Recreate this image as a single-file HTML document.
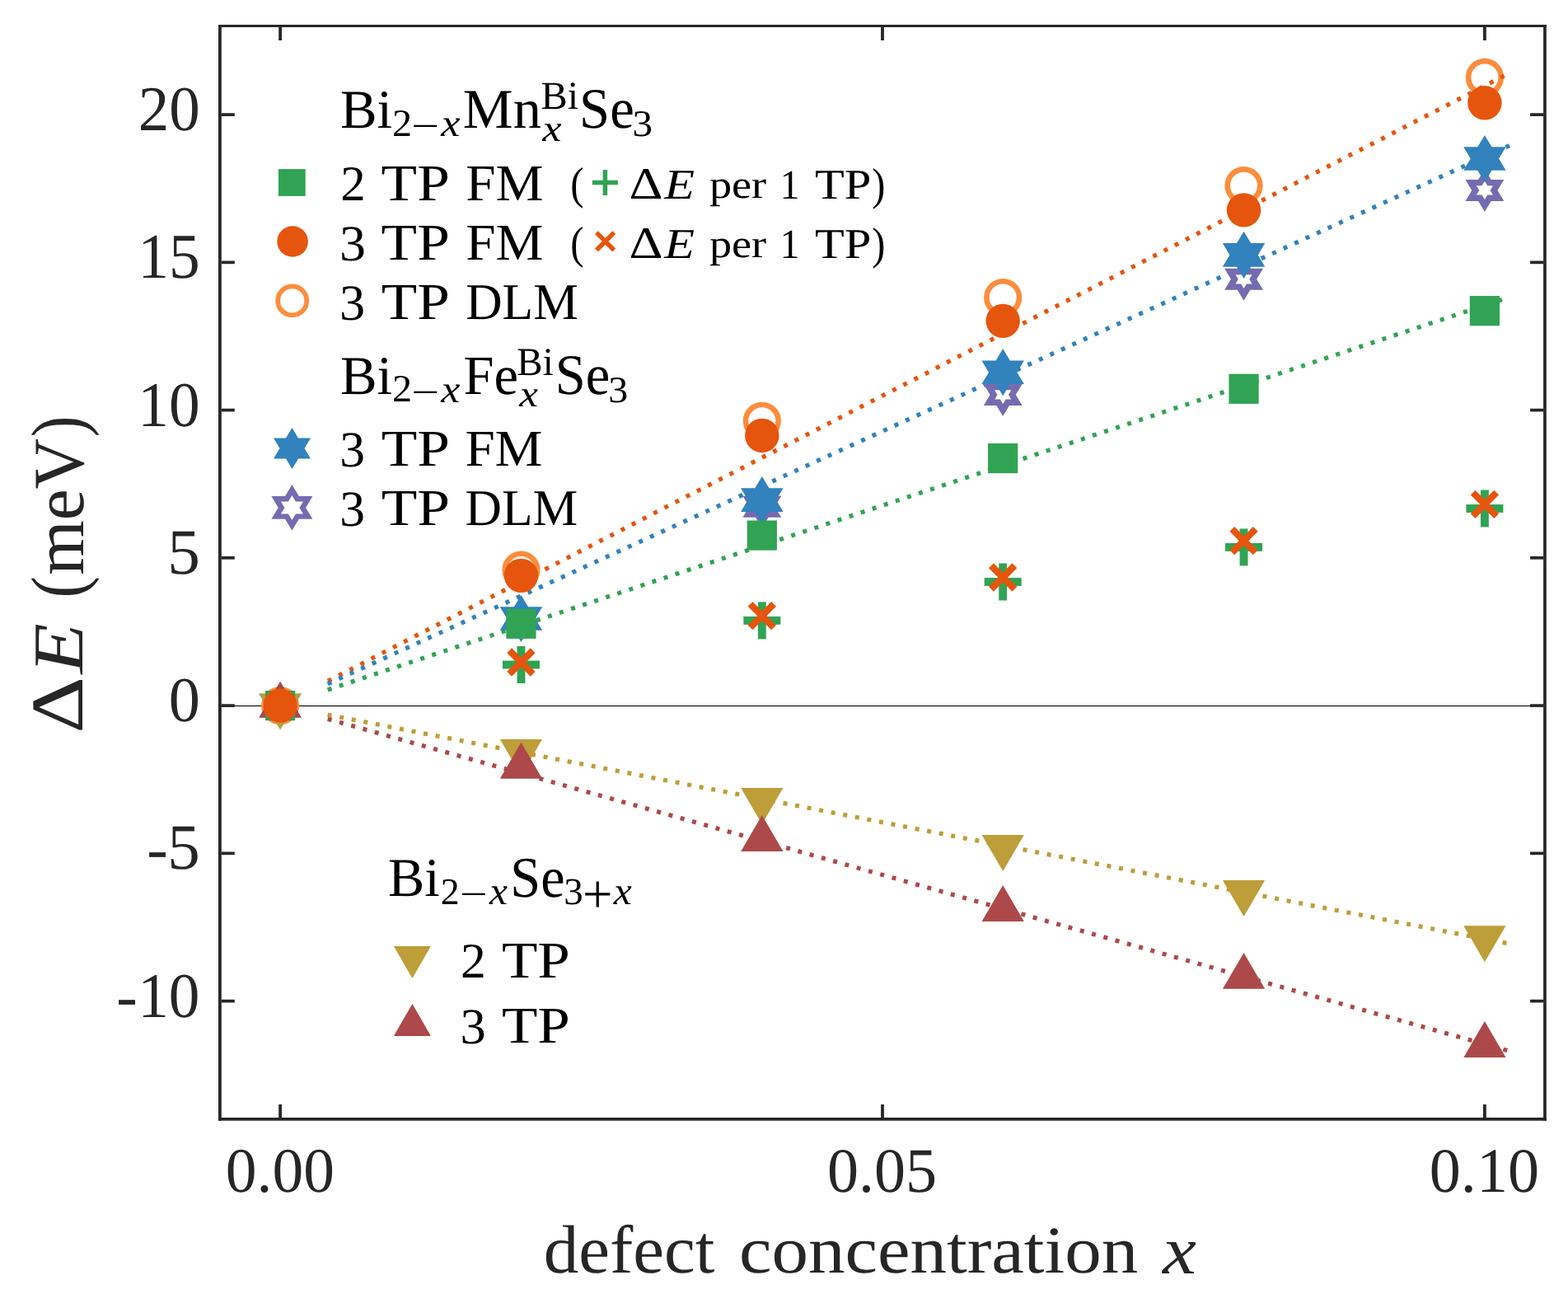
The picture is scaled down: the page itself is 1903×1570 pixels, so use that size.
<!DOCTYPE html>
<html><head><meta charset="utf-8"><title>Defect concentration plot</title>
<style>html,body{margin:0;padding:0;background:#fff;overflow:hidden;}svg{display:block;}
text{font-family:'Liberation Serif', 'DejaVu Serif', serif;text-rendering:geometricPrecision;}</style></head>
<body><svg width="1903" height="1570" viewBox="0 0 1903 1570">
<rect width="1903" height="1570" fill="#fff"/>
<rect x="268" y="855.95" width="1605" height="1.1" fill="#000"/>
<circle cx="340.1" cy="856.1" r="19.8" fill="none" stroke="#fd8d3c" stroke-width="6.6"/>
<circle cx="632.46" cy="691.55" r="19.8" fill="none" stroke="#fd8d3c" stroke-width="6.6"/>
<circle cx="924.82" cy="510.86" r="19.8" fill="none" stroke="#fd8d3c" stroke-width="6.6"/>
<circle cx="1217.18" cy="361.01" r="19.8" fill="none" stroke="#fd8d3c" stroke-width="6.6"/>
<circle cx="1509.54" cy="225.14" r="19.8" fill="none" stroke="#fd8d3c" stroke-width="6.6"/>
<circle cx="1801.9" cy="93.93" r="19.8" fill="none" stroke="#fd8d3c" stroke-width="6.6"/>
<line x1="397.73" y1="836.96" x2="1832" y2="360.49" stroke="#31a354" stroke-width="5.3" stroke-dasharray="5 9.82"/>
<line x1="397.88" y1="826.38" x2="1832" y2="88.67" stroke="#e6550d" stroke-width="5.3" stroke-dasharray="5 9.82"/>
<line x1="397.82" y1="829.81" x2="1832" y2="176.54" stroke="#3182bd" stroke-width="5.3" stroke-dasharray="5 9.82"/>
<line x1="397.65" y1="867.25" x2="1832" y2="1145.08" stroke="#bd9e39" stroke-width="5.3" stroke-dasharray="5 9.82"/>
<line x1="397.69" y1="872.28" x2="1832" y2="1275.32" stroke="#ad494a" stroke-width="5.3" stroke-dasharray="5 9.82"/>
<path d="M340.1,830.1 L347.91,843.1 L363.52,843.1 L355.71,856.1 L363.52,869.1 L347.91,869.1 L340.1,882.1 L332.29,869.1 L316.68,869.1 L324.49,856.1 L316.68,843.1 L332.29,843.1Z M340.1,844.9 L343.46,850.5 L350.19,850.5 L346.82,856.1 L350.19,861.7 L343.46,861.7 L340.1,867.3 L336.74,861.7 L330.01,861.7 L333.38,856.1 L330.01,850.5 L336.74,850.5Z" fill="#756bb1" fill-rule="evenodd"/>
<path d="M632.46,724.52 L640.27,737.52 L655.88,737.52 L648.07,750.52 L655.88,763.52 L640.27,763.52 L632.46,776.52 L624.65,763.52 L609.04,763.52 L616.85,750.52 L609.04,737.52 L624.65,737.52Z M632.46,739.32 L635.82,744.92 L642.55,744.92 L639.18,750.52 L642.55,756.12 L635.82,756.12 L632.46,761.72 L629.1,756.12 L622.37,756.12 L625.74,750.52 L622.37,744.92 L629.1,744.92Z" fill="#756bb1" fill-rule="evenodd"/>
<path d="M924.82,588.83 L932.63,601.83 L948.24,601.83 L940.43,614.83 L948.24,627.83 L932.63,627.83 L924.82,640.83 L917.01,627.83 L901.4,627.83 L909.21,614.83 L901.4,601.83 L917.01,601.83Z M924.82,603.63 L928.18,609.23 L934.91,609.23 L931.54,614.83 L934.91,620.43 L928.18,620.43 L924.82,626.03 L921.46,620.43 L914.73,620.43 L918.1,614.83 L914.73,609.23 L921.46,609.23Z" fill="#756bb1" fill-rule="evenodd"/>
<path d="M1217.18,452.96 L1224.99,465.96 L1240.6,465.96 L1232.79,478.96 L1240.6,491.96 L1224.99,491.96 L1217.18,504.96 L1209.37,491.96 L1193.76,491.96 L1201.57,478.96 L1193.76,465.96 L1209.37,465.96Z M1217.18,467.76 L1220.54,473.36 L1227.27,473.36 L1223.9,478.96 L1227.27,484.56 L1220.54,484.56 L1217.18,490.16 L1213.82,484.56 L1207.09,484.56 L1210.46,478.96 L1207.09,473.36 L1213.82,473.36Z" fill="#756bb1" fill-rule="evenodd"/>
<path d="M1509.54,312.78 L1517.35,325.78 L1532.96,325.78 L1525.15,338.78 L1532.96,351.78 L1517.35,351.78 L1509.54,364.78 L1501.73,351.78 L1486.12,351.78 L1493.93,338.78 L1486.12,325.78 L1501.73,325.78Z M1509.54,327.58 L1512.9,333.18 L1519.63,333.18 L1516.26,338.78 L1519.63,344.38 L1512.9,344.38 L1509.54,349.98 L1506.18,344.38 L1499.45,344.38 L1502.82,338.78 L1499.45,333.18 L1506.18,333.18Z" fill="#756bb1" fill-rule="evenodd"/>
<path d="M1801.9,204.88 L1809.71,217.88 L1825.32,217.88 L1817.51,230.88 L1825.32,243.88 L1809.71,243.88 L1801.9,256.88 L1794.09,243.88 L1778.48,243.88 L1786.29,230.88 L1778.48,217.88 L1794.09,217.88Z M1801.9,219.68 L1805.26,225.28 L1811.99,225.28 L1808.62,230.88 L1811.99,236.48 L1805.26,236.48 L1801.9,242.08 L1798.54,236.48 L1791.81,236.48 L1795.18,230.88 L1791.81,225.28 L1798.54,225.28Z" fill="#756bb1" fill-rule="evenodd"/>
<polygon points="340.1,827.5 348.69,841.8 365.86,841.8 357.27,856.1 365.86,870.4 348.69,870.4 340.1,884.7 331.51,870.4 314.34,870.4 322.93,856.1 314.34,841.8 331.51,841.8" fill="#3182bd"/>
<polygon points="632.46,721.92 641.05,736.22 658.22,736.22 649.63,750.52 658.22,764.82 641.05,764.82 632.46,779.12 623.87,764.82 606.7,764.82 615.29,750.52 606.7,736.22 623.87,736.22" fill="#3182bd"/>
<polygon points="924.82,577.98 933.41,592.28 950.58,592.28 941.99,606.58 950.58,620.88 933.41,620.88 924.82,635.18 916.23,620.88 899.06,620.88 907.65,606.58 899.06,592.28 916.23,592.28" fill="#3182bd"/>
<polygon points="1217.18,423.11 1225.77,437.41 1242.94,437.41 1234.35,451.71 1242.94,466.01 1225.77,466.01 1217.18,480.31 1208.59,466.01 1191.42,466.01 1200.01,451.71 1191.42,437.41 1208.59,437.41" fill="#3182bd"/>
<polygon points="1509.54,280.79 1518.13,295.09 1535.3,295.09 1526.71,309.39 1535.3,323.69 1518.13,323.69 1509.54,337.99 1500.95,323.69 1483.78,323.69 1492.37,309.39 1483.78,295.09 1500.95,295.09" fill="#3182bd"/>
<polygon points="1801.9,163.92 1810.49,178.22 1827.66,178.22 1819.07,192.52 1827.66,206.82 1810.49,206.82 1801.9,221.12 1793.31,206.82 1776.14,206.82 1784.73,192.52 1776.14,178.22 1793.31,178.22" fill="#3182bd"/>
<polygon points="340.1,885.4 314.5,841.45 365.7,841.45" fill="#bd9e39"/>
<polygon points="632.46,940.97 606.86,897.02 658.06,897.02" fill="#bd9e39"/>
<polygon points="924.82,1000.05 899.22,956.1 950.42,956.1" fill="#bd9e39"/>
<polygon points="1217.18,1057.01 1191.58,1013.06 1242.78,1013.06" fill="#bd9e39"/>
<polygon points="1509.54,1112.04 1483.94,1068.09 1535.14,1068.09" fill="#bd9e39"/>
<polygon points="1801.9,1167.18 1776.3,1123.23 1827.5,1123.23" fill="#bd9e39"/>
<polygon points="340.1,826.8 314.5,870.75 365.7,870.75" fill="#ad494a"/>
<polygon points="632.46,900.79 606.86,944.74 658.06,944.74" fill="#ad494a"/>
<polygon points="924.82,988.99 899.22,1032.94 950.42,1032.94" fill="#ad494a"/>
<polygon points="1217.18,1073.99 1191.58,1117.94 1242.78,1117.94" fill="#ad494a"/>
<polygon points="1509.54,1155.9 1483.94,1199.85 1535.14,1199.85" fill="#ad494a"/>
<polygon points="1801.9,1239.08 1776.3,1283.03 1827.5,1283.03" fill="#ad494a"/>
<rect x="609.96" y="801.57" width="45" height="9.9" fill="#31a354"/><rect x="627.51" y="784.02" width="9.9" height="45" fill="#31a354"/>
<rect x="902.32" y="747.94" width="45" height="9.9" fill="#31a354"/><rect x="919.87" y="730.39" width="9.9" height="45" fill="#31a354"/>
<rect x="1194.68" y="701.05" width="45" height="9.9" fill="#31a354"/><rect x="1212.23" y="683.5" width="9.9" height="45" fill="#31a354"/>
<rect x="1487.04" y="658.99" width="45" height="9.9" fill="#31a354"/><rect x="1504.59" y="641.44" width="9.9" height="45" fill="#31a354"/>
<rect x="1779.4" y="612.03" width="45" height="9.9" fill="#31a354"/><rect x="1796.95" y="594.48" width="9.9" height="45" fill="#31a354"/>
<path d="M618.21,789.26 L646.71,817.76 M618.21,817.76 L646.71,789.26" stroke="#e6550d" stroke-width="8.2" fill="none"/>
<path d="M910.57,732.87 L939.07,761.37 M910.57,761.37 L939.07,732.87" stroke="#e6550d" stroke-width="8.2" fill="none"/>
<path d="M1202.93,686.26 L1231.43,714.76 M1202.93,714.76 L1231.43,686.26" stroke="#e6550d" stroke-width="8.2" fill="none"/>
<path d="M1495.29,641.81 L1523.79,670.31 M1495.29,670.31 L1523.79,641.81" stroke="#e6550d" stroke-width="8.2" fill="none"/>
<path d="M1787.65,597.71 L1816.15,626.21 M1787.65,626.21 L1816.15,597.71" stroke="#e6550d" stroke-width="8.2" fill="none"/>
<rect x="322" y="838" width="36.2" height="36.2" fill="#31a354"/>
<rect x="614.36" y="738.7" width="36.2" height="36.2" fill="#31a354"/>
<rect x="906.72" y="631.5" width="36.2" height="36.2" fill="#31a354"/>
<rect x="1199.08" y="537.94" width="36.2" height="36.2" fill="#31a354"/>
<rect x="1491.44" y="453.69" width="36.2" height="36.2" fill="#31a354"/>
<rect x="1783.8" y="359.04" width="36.2" height="36.2" fill="#31a354"/>
<circle cx="340.1" cy="856.1" r="20.7" fill="#e6550d"/>
<circle cx="632.46" cy="698.36" r="20.7" fill="#e6550d"/>
<circle cx="924.82" cy="528.43" r="20.7" fill="#e6550d"/>
<circle cx="1217.18" cy="389.33" r="20.7" fill="#e6550d"/>
<circle cx="1509.54" cy="254.9" r="20.7" fill="#e6550d"/>
<circle cx="1801.9" cy="124.76" r="20.7" fill="#e6550d"/>
<rect x="337.9" y="205.1" width="32.8" height="32.8" fill="#31a354"/>
<circle cx="355.1" cy="293" r="18.8" fill="#e6550d"/>
<circle cx="354.7" cy="364.9" r="17.5" fill="none" stroke="#fd8d3c" stroke-width="5.8"/>
<polygon points="354.5,519 362.01,531.5 377.02,531.5 369.51,544 377.02,556.5 362.01,556.5 354.5,569 346.99,556.5 331.98,556.5 339.49,544 331.98,531.5 346.99,531.5" fill="#3182bd"/>
<path d="M354.4,588.1 L362.75,602 L379.44,602 L371.09,615.9 L379.44,629.8 L362.75,629.8 L354.4,643.7 L346.05,629.8 L329.36,629.8 L337.71,615.9 L329.36,602 L346.05,602Z M354.4,600.9 L358.9,608.4 L367.91,608.4 L363.41,615.9 L367.91,623.4 L358.9,623.4 L354.4,630.9 L349.9,623.4 L340.89,623.4 L345.39,615.9 L340.89,608.4 L349.9,608.4Z" fill="#756bb1" fill-rule="evenodd"/>
<polygon points="500.4,1186.9 477.88,1147.9 522.92,1147.9" fill="#bd9e39"/>
<polygon points="500.4,1217.9 477.88,1256.9 522.92,1256.9" fill="#ad494a"/>
<rect x="718.9" y="218.75" width="31" height="5.5" fill="#31a354"/><rect x="731.65" y="206" width="5.5" height="31" fill="#31a354"/>
<path d="M723.95,282.15 L745.25,303.45 M723.95,303.45 L745.25,282.15" stroke="#e6550d" stroke-width="5.5" fill="none"/>
<rect x="265" y="30" width="1612" height="3" fill="#262626"/>
<rect x="265" y="1356" width="1612" height="3.7" fill="#262626"/>
<rect x="265" y="30" width="3.8" height="1329.7" fill="#262626"/>
<rect x="1873.1" y="30" width="3.7" height="1329.7" fill="#262626"/>
<rect x="338.2" y="33" width="3.8" height="16" fill="#262626"/>
<rect x="338.2" y="1340" width="3.8" height="16" fill="#262626"/>
<rect x="1069.1" y="33" width="3.8" height="16" fill="#262626"/>
<rect x="1069.1" y="1340" width="3.8" height="16" fill="#262626"/>
<rect x="1800" y="33" width="3.8" height="16" fill="#262626"/>
<rect x="1800" y="1340" width="3.8" height="16" fill="#262626"/>
<rect x="268.8" y="137.25" width="16" height="3.7" fill="#262626"/>
<rect x="1857.1" y="137.25" width="16" height="3.7" fill="#262626"/>
<rect x="268.8" y="316.5" width="16" height="3.7" fill="#262626"/>
<rect x="1857.1" y="316.5" width="16" height="3.7" fill="#262626"/>
<rect x="268.8" y="495.75" width="16" height="3.7" fill="#262626"/>
<rect x="1857.1" y="495.75" width="16" height="3.7" fill="#262626"/>
<rect x="268.8" y="675" width="16" height="3.7" fill="#262626"/>
<rect x="1857.1" y="675" width="16" height="3.7" fill="#262626"/>
<rect x="268.8" y="854.25" width="16" height="3.7" fill="#262626"/>
<rect x="1857.1" y="854.25" width="16" height="3.7" fill="#262626"/>
<rect x="268.8" y="1033.5" width="16" height="3.7" fill="#262626"/>
<rect x="1857.1" y="1033.5" width="16" height="3.7" fill="#262626"/>
<rect x="268.8" y="1212.75" width="16" height="3.7" fill="#262626"/>
<rect x="1857.1" y="1212.75" width="16" height="3.7" fill="#262626"/>
<g id="yt20" transform="matrix(0.98725 0.00002 0 1.01798 5.794 -2.644)"><text x="240" y="157.5" font-size="76" fill="#262626" text-anchor="end" style="">20</text></g>
<g id="yt15" transform="matrix(0.99352 0.00002 0 1.02236 4.367 -7.671)"><text x="240" y="336.75" font-size="76" fill="#262626" text-anchor="end" style="">15</text></g>
<g id="yt10" transform="matrix(0.99097 0.00002 0 1.01798 4.852 -8.600)"><text x="240" y="516" font-size="76" fill="#262626" text-anchor="end" style="">10</text></g>
<g id="yt5" transform="matrix(1.04485 0.00002 0 1.03149 -7.808 -21.577)"><text x="240" y="695.25" font-size="76" fill="#262626" text-anchor="end" style="">5</text></g>
<g id="yt0" transform="matrix(1.00280 0.00002 0 1.01720 2.077 -14.883)"><text x="240" y="874.5" font-size="76" fill="#262626" text-anchor="end" style="">0</text></g>
<g id="yt5n" transform="matrix(1.04124 0.00002 0 1.03168 -7.165 -33.577)"><text x="240" y="1053.75" font-size="76" fill="#262626" text-anchor="end" style="">5</text></g>
<g id="yt5h" transform="matrix(1.00810 0.00002 0 1.00352 -4.329 -2.847)"><text x="181" y="1053.75" font-size="76" fill="#262626" text-anchor="start" style="">-</text></g>
<g id="yt10n" transform="matrix(0.99022 0.00002 0 1.01739 4.799 -20.767)"><text x="240" y="1233" font-size="76" fill="#262626" text-anchor="end" style="">10</text></g>
<g id="yt10h" transform="matrix(1.00810 0.00002 0 1.00352 -3.890 -3.728)"><text x="144.1" y="1233" font-size="76" fill="#262626" text-anchor="start" style="">-</text></g>
<g id="xt0.00" transform="matrix(0.96729 0.00002 0 0.98767 11.077 17.368)"><text x="339.9" y="1446" font-size="78" fill="#262626" text-anchor="middle" style="">0.00</text></g>
<g id="xt0.05" transform="matrix(0.97524 0.00002 0 0.98463 26.670 21.773)"><text x="1070.4" y="1446" font-size="78" fill="#262626" text-anchor="middle" style="">0.05</text></g>
<g id="xt0.10" transform="matrix(0.97572 0.00002 0 0.98482 43.701 21.500)"><text x="1801.45" y="1446" font-size="78" fill="#262626" text-anchor="middle" style="">0.10</text></g>
<g id="xl1" transform="matrix(1.01275 0.00002 0 0.98584 -11.754 21.834)"><text x="663" y="1543.7" font-size="84" fill="#262626" text-anchor="start" style="">defect</text></g>
<g id="xl1b" transform="matrix(1.05933 0.00002 0 0.96765 -56.400 49.782)"><text x="900" y="1543.7" font-size="84" fill="#262626" text-anchor="start" style="">concentration</text></g>
<g id="xl2" transform="matrix(1.09389 0.00002 0 0.98676 -131.425 21.298)"><text x="1410" y="1543.7" font-size="84" fill="#262626" text-anchor="start" style="font-style:italic;">x</text></g>
<g id="yl1" transform="matrix(1.04948 0.00002 0 1.24405 -4.748 -211.136)"><text x="99.8" y="885" font-size="86" fill="#262626" text-anchor="start" style="" transform="rotate(-90 99.8 885)">Δ</text></g>
<g id="yl2" transform="matrix(1.00728 0.00002 0 1.16960 -0.528 -139.336)"><text x="99.8" y="818" font-size="86" fill="#262626" text-anchor="start" style="font-style:italic;" transform="rotate(-90 99.8 818)">E</text></g>
<g id="yl3" transform="matrix(1.06112 0.00002 0 0.91689 -4.917 63.453)"><text x="99.8" y="722" font-size="86" fill="#262626" text-anchor="start" style="" transform="rotate(-90 99.8 722)">(</text></g>
<g id="yl4" transform="matrix(1.02030 0.00002 0 0.99076 -1.187 8.072)"><text x="99.8" y="696" font-size="86" fill="#262626" text-anchor="start" style="" transform="rotate(-90 99.8 696)">meV</text></g>
<g id="yl5" transform="matrix(1.06009 0.00002 0 0.89461 -5.091 57.767)"><text x="99.8" y="528" font-size="86" fill="#262626" text-anchor="start" style="" transform="rotate(-90 99.8 528)">)</text></g>
<g id="tMn_Bi" transform="matrix(1.04369 0.00002 0 1.03890 -20.160 -6.599)"><text x="415" y="155.1" font-size="64" fill="#000" text-anchor="start" style="">Bi</text></g>
<g id="tFe_Bi" transform="matrix(1.04369 0.00002 0 1.03890 -20.160 -18.762)"><text x="415" y="477.7" font-size="64" fill="#000" text-anchor="start" style="">Bi</text></g>
<g id="tMn_s2" transform="matrix(1.04664 0.00002 0 1.02135 -24.289 -3.673)"><text x="478" y="164.9" font-size="46" fill="#000" text-anchor="start" style="">2</text></g>
<g id="tFe_s2" transform="matrix(1.04664 0.00002 0 1.02135 -24.289 -11.417)"><text x="478" y="487.5" font-size="46" fill="#000" text-anchor="start" style="">2</text></g>
<g id="tMn_sm" transform="matrix(1.30449 0.00002 0 0.99203 -155.914 3.937)"><text x="502.2" y="164.9" font-size="46" fill="#000" text-anchor="start" style="">−</text></g>
<g id="tFe_sm" transform="matrix(1.30449 0.00002 0 0.99203 -155.914 6.942)"><text x="502.2" y="487.5" font-size="46" fill="#000" text-anchor="start" style="">−</text></g>
<g id="tMn_sx" transform="matrix(1.13247 0.00002 0 1.02150 -70.463 -3.751)"><text x="534.8" y="164.9" font-size="46" fill="#000" text-anchor="start" style="font-style:italic;">x</text></g>
<g id="tFe_sx" transform="matrix(1.13247 0.00002 0 1.02150 -70.463 -10.298)"><text x="534.8" y="487.5" font-size="46" fill="#000" text-anchor="start" style="font-style:italic;">x</text></g>
<g id="tMn_Mn" transform="matrix(1.06918 0.00002 0 1.06217 -40.987 -10.336)"><text x="563.8" y="155.2" font-size="64" fill="#000" text-anchor="start" style="">Mn</text></g>
<g id="tMn_sup" transform="matrix(1.04965 0.00002 0 1.04076 -34.014 -5.860)"><text x="657.8" y="132" font-size="46" fill="#000" text-anchor="start" style="">Bi</text></g>
<g id="tMn_sx2" transform="matrix(1.14281 0.00002 0 0.98768 -93.563 2.152)"><text x="657.8" y="170.7" font-size="46" fill="#000" text-anchor="start" style="font-style:italic;">x</text></g>
<g id="tMn_Se" transform="matrix(1.04066 0.00002 0 1.08687 -33.263 -15.152)"><text x="707.6" y="156.2" font-size="64" fill="#000" text-anchor="start" style="">Se</text></g>
<g id="tMn_s3" transform="matrix(1.06780 0.00002 0 0.98224 -54.633 1.878)"><text x="770" y="165.7" font-size="46" fill="#000" text-anchor="start" style="">3</text></g>
<g id="tFe_Fe" transform="matrix(1.03912 0.00002 0 1.05014 -23.949 -24.507)"><text x="564.4" y="478.2" font-size="64" fill="#000" text-anchor="start" style="">Fe</text></g>
<g id="tFe_sup" transform="matrix(1.02106 0.00002 0 1.04306 -14.517 -19.840)"><text x="628.6" y="454.8" font-size="46" fill="#000" text-anchor="start" style="">Bi</text></g>
<g id="tFe_sx2" transform="matrix(1.11720 0.00002 0 0.98768 -73.231 5.279)"><text x="629.6" y="493.3" font-size="46" fill="#000" text-anchor="start" style="font-style:italic;">x</text></g>
<g id="tFe_Se" transform="matrix(1.03923 0.00002 0 1.08566 -31.051 -42.274)"><text x="678.2" y="478.8" font-size="64" fill="#000" text-anchor="start" style="">Se</text></g>
<g id="tFe_s3" transform="matrix(1.04288 0.00002 0 0.98322 -34.000 7.556)"><text x="740.6" y="488.3" font-size="46" fill="#000" text-anchor="start" style="">3</text></g>
<g id="tSe_Bi" transform="matrix(1.03741 0.00002 0 1.03607 -19.736 -39.778)"><text x="473.1" y="1087.1" font-size="64" fill="#000" text-anchor="start" style="">Bi</text></g>
<g id="tSe_s2" transform="matrix(0.99784 0.00002 0 0.99183 -0.846 8.562)"><text x="536.7" y="1096.9" font-size="46" fill="#000" text-anchor="start" style="">2</text></g>
<g id="tSe_sm" transform="matrix(1.29635 0.00002 0 0.99203 -169.349 21.849)"><text x="561.1" y="1086.4" font-size="46" fill="#000" text-anchor="start" style="">−</text></g>
<g id="tSe_sx" transform="matrix(1.07930 0.00002 0 1.02524 -46.670 -28.388)"><text x="593.7" y="1097.2" font-size="46" fill="#000" text-anchor="start" style="font-style:italic;">x</text></g>
<g id="tSe_Se" transform="matrix(1.03439 0.00002 0 1.09175 -25.923 -101.139)"><text x="623.8" y="1088.8" font-size="64" fill="#000" text-anchor="start" style="">Se</text></g>
<g id="tSe_s3" transform="matrix(1.02276 0.00002 0 1.00229 -17.859 -3.579)"><text x="686.5" y="1097.7" font-size="46" fill="#000" text-anchor="start" style="">3</text></g>
<g id="tSe_sp" transform="matrix(1.40767 0.00002 0 1.44533 -292.723 -484.757)"><text x="710.2" y="1101" font-size="46" fill="#000" text-anchor="start" style="">+</text></g>
<g id="tSe_sx3" transform="matrix(1.07831 0.00002 0 1.02524 -57.874 -28.388)"><text x="744.4" y="1097.2" font-size="46" fill="#000" text-anchor="start" style="font-style:italic;">x</text></g>
<g id="lg_r1_0" transform="matrix(1.01498 0.00002 0 1.00705 -8.830 -2.313)"><text x="415.8" y="243.1" font-size="60" fill="#000" text-anchor="start" style="">2</text></g>
<g id="lg_r1_1" transform="matrix(1.18768 0.00002 0 1.04459 -88.338 -11.434)"><text x="463.9" y="243.1" font-size="60" fill="#000" text-anchor="start" style="">TP</text></g>
<g id="lg_r1_2" transform="matrix(1.08664 0.00002 0 1.04459 -51.066 -11.434)"><text x="567.1" y="243.1" font-size="60" fill="#000" text-anchor="start" style="">FM</text></g>
<g id="lg_r2_0" transform="matrix(1.06516 0.00002 0 1.02613 -30.139 -7.912)"><text x="415" y="315.3" font-size="60" fill="#000" text-anchor="start" style="">3</text></g>
<g id="lg_r2_1" transform="matrix(1.18768 0.00002 0 1.04459 -88.338 -14.845)"><text x="463.9" y="315.3" font-size="60" fill="#000" text-anchor="start" style="">TP</text></g>
<g id="lg_r2_2" transform="matrix(1.08664 0.00002 0 1.04459 -51.066 -14.845)"><text x="567.1" y="315.3" font-size="60" fill="#000" text-anchor="start" style="">FM</text></g>
<g id="lg_r3_0" transform="matrix(1.03602 0.00002 0 1.02588 -17.942 -9.267)"><text x="415" y="386.9" font-size="60" fill="#000" text-anchor="start" style="">3</text></g>
<g id="lg_r3_1" transform="matrix(1.18594 0.00002 0 1.04459 -87.570 -17.405)"><text x="464" y="386.9" font-size="60" fill="#000" text-anchor="start" style="">TP</text></g>
<g id="lg_r3_2" transform="matrix(1.02419 0.00002 0 1.04026 -15.495 -15.959)"><text x="567" y="386.9" font-size="60" fill="#000" text-anchor="start" style="">DLM</text></g>
<g id="lg_r4_0" transform="matrix(1.02552 0.00002 0 1.02662 -13.600 -14.696)"><text x="415.3" y="565.3" font-size="60" fill="#000" text-anchor="start" style="">3</text></g>
<g id="lg_r4_1" transform="matrix(1.18859 0.00002 0 1.04459 -88.632 -25.991)"><text x="463.8" y="565.3" font-size="60" fill="#000" text-anchor="start" style="">TP</text></g>
<g id="lg_r4_2" transform="matrix(1.08606 0.00002 0 1.04459 -50.751 -25.991)"><text x="566.4" y="565.3" font-size="60" fill="#000" text-anchor="start" style="">FM</text></g>
<g id="lg_r5_0" transform="matrix(1.02552 0.00002 0 1.02662 -13.600 -16.413)"><text x="415.3" y="637.1" font-size="60" fill="#000" text-anchor="start" style="">3</text></g>
<g id="lg_r5_1" transform="matrix(1.18859 0.00002 0 1.04459 -88.632 -29.001)"><text x="463.8" y="637.1" font-size="60" fill="#000" text-anchor="start" style="">TP</text></g>
<g id="lg_r5_2" transform="matrix(1.02548 0.00002 0 1.04001 -16.247 -26.078)"><text x="566.4" y="637.1" font-size="60" fill="#000" text-anchor="start" style="">DLM</text></g>
<g id="lg_r6_0" transform="matrix(1.02747 0.00002 0 1.00705 -18.136 -8.661)"><text x="561.8" y="1185.8" font-size="60" fill="#000" text-anchor="start" style="">2</text></g>
<g id="lg_r6_1" transform="matrix(1.18326 0.00002 0 1.04459 -112.971 -53.179)"><text x="610.1" y="1185.8" font-size="60" fill="#000" text-anchor="start" style="">TP</text></g>
<g id="lg_r7_0" transform="matrix(1.04007 0.00002 0 1.02563 -25.583 -31.792)"><text x="561.5" y="1265" font-size="60" fill="#000" text-anchor="start" style="">3</text></g>
<g id="lg_r7_1" transform="matrix(1.18326 0.00002 0 1.04459 -112.971 -56.901)"><text x="610.1" y="1265" font-size="60" fill="#000" text-anchor="start" style="">TP</text></g>
<g id="lp_a1" transform="matrix(0.97504 0.00002 0 1.09304 15.091 -22.808)"><text x="694.6" y="240.9" font-size="50" fill="#000" text-anchor="start" style="">(</text></g>
<g id="lp_aD" transform="matrix(1.27707 0.00002 0 1.09091 -214.768 -22.059)"><text x="766" y="240.9" font-size="50" fill="#000" text-anchor="start" style="">Δ</text></g>
<g id="lp_aE" transform="matrix(1.20448 0.00002 0 1.03425 -164.444 -8.605)"><text x="806" y="240.9" font-size="50" fill="#000" text-anchor="start" style="font-style:italic;">E</text></g>
<g id="lp_ap" transform="matrix(1.08547 0.00002 0 0.95091 -74.778 10.628)"><text x="862" y="240.9" font-size="50" fill="#000" text-anchor="start" style="">per</text></g>
<g id="lp_a1n" transform="matrix(0.96251 0.00002 0 1.01003 31.277 -2.819)"><text x="951" y="240.9" font-size="50" fill="#000" text-anchor="start" style="">1</text></g>
<g id="lp_aT" transform="matrix(1.17092 0.00002 0 1.03088 -170.229 -7.842)"><text x="990" y="240.9" font-size="50" fill="#000" text-anchor="start" style="">TP</text></g>
<g id="lp_a3" transform="matrix(0.96878 0.00002 0 1.09556 31.641 -22.346)"><text x="1059.7" y="240.9" font-size="50" fill="#000" text-anchor="start" style="">)</text></g>
<g id="lp_b1" transform="matrix(0.97504 0.00002 0 1.09304 15.091 -29.507)"><text x="694.6" y="312.9" font-size="50" fill="#000" text-anchor="start" style="">(</text></g>
<g id="lp_bD" transform="matrix(1.27707 0.00002 0 1.09091 -214.768 -28.605)"><text x="766" y="312.9" font-size="50" fill="#000" text-anchor="start" style="">Δ</text></g>
<g id="lp_bE" transform="matrix(1.20448 0.00002 0 1.03425 -164.444 -11.072)"><text x="806" y="312.9" font-size="50" fill="#000" text-anchor="start" style="font-style:italic;">E</text></g>
<g id="lp_bp" transform="matrix(1.08547 0.00002 0 0.95091 -74.778 14.163)"><text x="862" y="312.9" font-size="50" fill="#000" text-anchor="start" style="">per</text></g>
<g id="lp_b1n" transform="matrix(0.96251 0.00002 0 1.01003 31.277 -3.542)"><text x="951" y="312.9" font-size="50" fill="#000" text-anchor="start" style="">1</text></g>
<g id="lp_bT" transform="matrix(1.17092 0.00002 0 1.03088 -170.229 -10.066)"><text x="990" y="312.9" font-size="50" fill="#000" text-anchor="start" style="">TP</text></g>
<g id="lp_b3" transform="matrix(0.96878 0.00002 0 1.09556 31.641 -29.227)"><text x="1059.7" y="312.9" font-size="50" fill="#000" text-anchor="start" style="">)</text></g>
</svg></body></html>
